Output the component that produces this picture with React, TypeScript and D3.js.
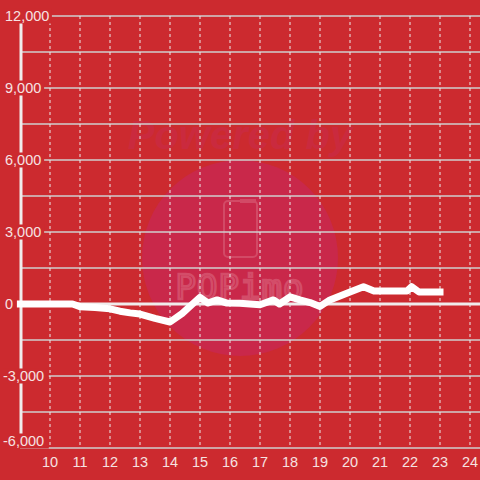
import React from "react";
import * as d3 from "d3";

const hours = [9, 10.75, 11, 11.5, 12, 12.33, 12.67, 13, 13.5, 14, 14.4, 15, 15.27, 15.57, 15.9, 16.33, 17, 17.45, 17.65, 18, 18.33, 18.67, 19, 19.33, 20, 20.45, 20.8, 21.9, 22.05, 22.3, 23];
const values = [0, 0, -110, -150, -200, -300, -370, -420, -600, -750, -400, 280, 40, 170, 40, 30, -30, 170, 0, 300, 170, 60, -100, 170, 500, 720, 540, 540, 720, 500, 500];
const xTicks = [10, 11, 12, 13, 14, 15, 16, 17, 18, 19, 20, 21, 22, 23, 24];
const yLabelTicks = [12000, 9000, 6000, 3000, 0, -3000, -6000];
const yGridTicks = d3.range(-6000, 12001, 1500);

const W = 480;
const H = 480;
const BG = "#cc2a2f";
const TXT = "#f6e2e2";

export default function App() {
  const x = d3.scaleLinear().domain([10, 24]).range([50, 470]);
  const y = d3.scaleLinear().domain([-6000, 12000]).range([448, 16]);
  const fmt = (v: number) => d3.format(",")(v).replace("\u2212", "-");
  const line = d3
    .line<number>()
    .x((_, i) => x(hours[i]))
    .y((d) => y(d));
  const charW = (s: string) =>
    s.split("").reduce((a, c) => a + (c === "," ? 3.9 : c === "-" ? 4.7 : 7.8), 0);

  return (
    <svg
      width={W}
      height={H}
      style={{ position: "absolute", left: 0, top: 0, display: "block" }}
      fontFamily="'Liberation Sans', Arial, sans-serif"
    >
      <rect x={0} y={0} width={W} height={H} fill={BG} />
      {/* watermark */}
      <circle cx={240} cy={258} r={98} fill="#c9284a" />
      <text
        x={240}
        y={135}
        textAnchor="middle"
        dominantBaseline="central"
        fontSize={40}
        fontWeight="bold"
        fontStyle="italic"
        fill="#ca2a3e"
      >
        Powered by
      </text>
      <rect x={224} y={201} width={33} height={56} rx={4} fill="none" stroke="#d24a66" strokeWidth={2} />
      <rect x={240} y={199} width={16} height={4} fill="#d24a66" />
      <text
        x={240}
        y={287}
        textAnchor="middle"
        dominantBaseline="central"
        fontSize={34}
        fontFamily="'DejaVu Sans Mono', monospace"
        letterSpacing={1}
        fill="none"
        stroke="#d34d69"
        strokeWidth={2.5}
      >
        PQPimo
      </text>
      {/* horizontal grid */}
      {yGridTicks.map((t) => (
        <line key={"h" + t} x1={20} x2={480} y1={y(t)} y2={y(t)} stroke="#cfcfcf" strokeWidth={1.5} />
      ))}
      {/* vertical dashed grid */}
      {xTicks.map((t) => (
        <line
          key={"v" + t}
          x1={x(t)}
          x2={x(t)}
          y1={16}
          y2={448}
          stroke="#ececec"
          strokeWidth={1}
          strokeDasharray="3,3"
        />
      ))}
      {/* zero line */}
      <line x1={20} x2={480} y1={y(0)} y2={y(0)} stroke="#f0ecec" strokeWidth={3} />
      {/* axis bar */}
      <line x1={21} x2={21} y1={16} y2={448} stroke="#f0ecec" strokeWidth={3} />
      {/* data line */}
      <path
        d={line(values) || ""}
        fill="none"
        stroke="#ffffff"
        strokeWidth={7}
        strokeLinecap="square"
        strokeLinejoin="round"
      />
      {/* y labels */}
      {yLabelTicks.map((t) => {
        const s = fmt(t);
        const cy = t === -6000 ? y(t) - 7 : y(t);
        const w = charW(s);
        return (
          <g key={"yl" + t}>
            <rect x={3} y={cy - 7.5} width={w + 6} height={15} fill={BG} />
            <text x={t < 0 ? 3 : 5} y={cy} dominantBaseline="central" fontSize={14.5} fill={TXT}>
              {s}
            </text>
          </g>
        );
      })}
      {/* x labels */}
      {xTicks.map((t) => (
        <text
          key={"xl" + t}
          x={x(t)}
          y={462}
          textAnchor="middle"
          dominantBaseline="central"
          fontSize={14.5}
          fill={TXT}
        >
          {t}
        </text>
      ))}
    </svg>
  );
}
